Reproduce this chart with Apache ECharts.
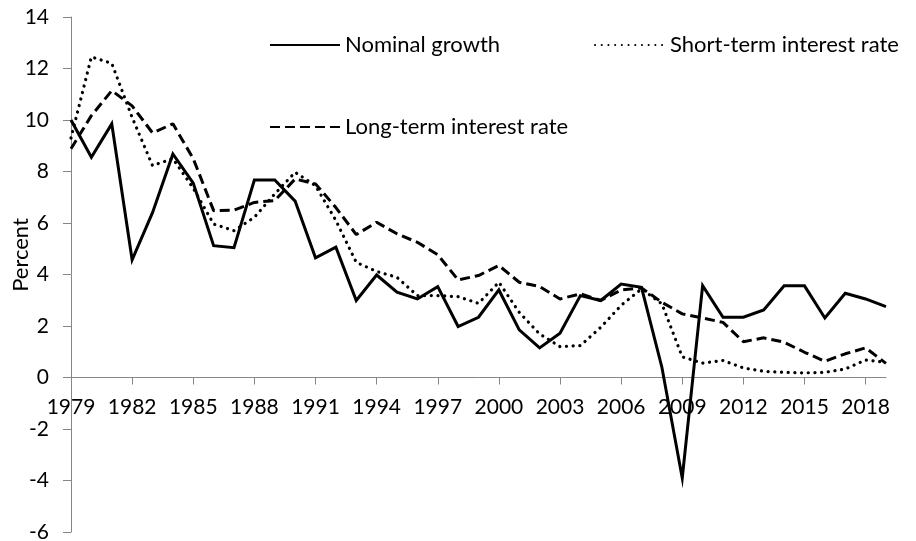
<!DOCTYPE html>
<html>
<head>
<meta charset="utf-8">
<script src="https://cdn.jsdelivr.net/npm/echarts@6/dist/echarts.min.js"></script>
<style>
  html, body { margin: 0; padding: 0; background: #ffffff; }
  #chart { width: 916px; height: 541px; }
</style>
</head>
<body>
<div id="chart"></div>
<script>
// years on the x axis
var years = ['1979', '1980', '1981', '1982', '1983', '1984', '1985', '1986', '1987', '1988',
  '1989', '1990', '1991', '1992', '1993', '1994', '1995', '1996', '1997', '1998',
  '1999', '2000', '2001', '2002', '2003', '2004', '2005', '2006', '2007', '2008',
  '2009', '2010', '2011', '2012', '2013', '2014', '2015', '2016', '2017', '2018', '2019'];

// percent
var nominalGrowth = [10.0, 8.55, 9.85, 4.57, 6.4, 8.68, 7.55, 5.12, 5.04, 7.67,
  7.67, 6.85, 4.65, 5.06, 2.99, 3.98, 3.31, 3.05, 3.53, 1.98,
  2.34, 3.40, 1.85, 1.15, 1.72, 3.18, 2.99, 3.63, 3.50, 0.4,
  -3.9, 3.57, 2.34, 2.34, 2.62, 3.56, 3.56, 2.31, 3.27, 3.05, 2.75];

var shortRate = [9.3, 12.45, 12.2, 10.1, 8.23, 8.5, 7.35, 5.96, 5.70, 6.22,
  7.13, 7.97, 7.45, 6.1, 4.47, 4.12, 3.89, 3.18, 3.18, 3.14,
  2.88, 3.70, 2.53, 1.69, 1.20, 1.24, 1.95, 2.8, 3.44, 2.86,
  0.8, 0.56, 0.66, 0.37, 0.24, 0.20, 0.18, 0.20, 0.33, 0.68, 0.59];

var longRate = [8.88, 10.17, 11.14, 10.55, 9.5, 9.85, 8.5, 6.48, 6.5, 6.8,
  6.87, 7.71, 7.52, 6.6, 5.55, 6.03, 5.58, 5.25, 4.77, 3.79,
  3.96, 4.35, 3.70, 3.53, 3.05, 3.25, 2.99, 3.4, 3.48, 2.92,
  2.47, 2.31, 2.14, 1.39, 1.54, 1.37, 0.98, 0.63, 0.92, 1.15, 0.55];

var FONT = 'Lato';
var axisGrey = '#868686';

// main plot area; the year axis sits on y = 0, which is 14/20 of the way down
var plotTop = 17, plotBottom = 9, plotH = 541 - plotTop - plotBottom;
var zeroH = plotH * 14 / 20;

var chart = echarts.init(document.getElementById('chart'));

function legendAt(name, left, top) {
  return {
    data: [name],
    left: left,
    top: top,
    padding: 0,
    selectedMode: false,
    itemWidth: 70,
    itemHeight: 14,
    itemStyle: { opacity: 0 },
    textStyle: { fontFamily: FONT, fontSize: 22, color: '#000' }
  };
}

chart.setOption({
  animation: false,
  backgroundColor: '#ffffff',
  grid: [
    { left: 71, right: 30, top: plotTop, bottom: plotBottom, containLabel: false, outerBoundsMode: 'none' },
    { left: 71, right: 30, top: plotTop, height: zeroH, containLabel: false, outerBoundsMode: 'none' }
  ],
  legend: [
    legendAt('Nominal growth', 269, 34),
    legendAt('Short-term interest rate', 594, 34),
    legendAt('Long-term interest rate', 269, 116)
  ],
  graphic: [{
    type: 'text',
    x: 21,
    y: 255,
    rotation: Math.PI / 2,
    style: {
      text: 'Percent',
      fontFamily: FONT,
      fontSize: 22,
      fill: '#000',
      align: 'center',
      verticalAlign: 'middle'
    }
  }],
  xAxis: [
    {
      type: 'category',
      gridIndex: 0,
      data: years,
      boundaryGap: false,
      show: false
    },
    {
      // visible year axis, bottom edge of grid 1 = zero line of grid 0
      type: 'category',
      gridIndex: 1,
      data: years,
      boundaryGap: false,
      position: 'bottom',
      axisLine: { onZero: false, lineStyle: { color: axisGrey, width: 1 } },
      axisTick: { interval: 2, length: 7, lineStyle: { color: axisGrey } },
      axisLabel: { interval: 2, margin: 19, fontFamily: FONT, fontSize: 21, color: '#000' },
      splitLine: { show: false }
    }
  ],
  yAxis: [
    {
      type: 'value',
      gridIndex: 0,
      min: -6,
      max: 14,
      interval: 2,
      axisLine: { show: true, onZero: false, lineStyle: { color: axisGrey, width: 1 } },
      axisTick: { show: true, length: 8, lineStyle: { color: axisGrey } },
      axisLabel: { margin: 22, fontFamily: FONT, fontSize: 21, color: '#000' },
      splitLine: { show: false }
    },
    {
      type: 'value',
      gridIndex: 1,
      min: 0,
      max: 14,
      show: false,
      splitLine: { show: false }
    }
  ],
  series: [
    {
      name: 'Nominal growth',
      type: 'line',
      data: nominalGrowth,
      symbol: 'none',
      lineStyle: { color: '#000', width: 3, type: 'solid', join: 'miter' },
      itemStyle: { color: '#000' }
    },
    {
      name: 'Short-term interest rate',
      type: 'line',
      data: shortRate,
      symbol: 'none',
      lineStyle: { color: '#000', width: 3.2, type: [0.1, 6.6], cap: 'round' },
      itemStyle: { color: '#000' }
    },
    {
      name: 'Long-term interest rate',
      type: 'line',
      data: longRate,
      symbol: 'none',
      lineStyle: { color: '#000', width: 3, type: [10, 5], cap: 'butt' },
      itemStyle: { color: '#000' }
    }
  ]
});
</script>
</body>
</html>
